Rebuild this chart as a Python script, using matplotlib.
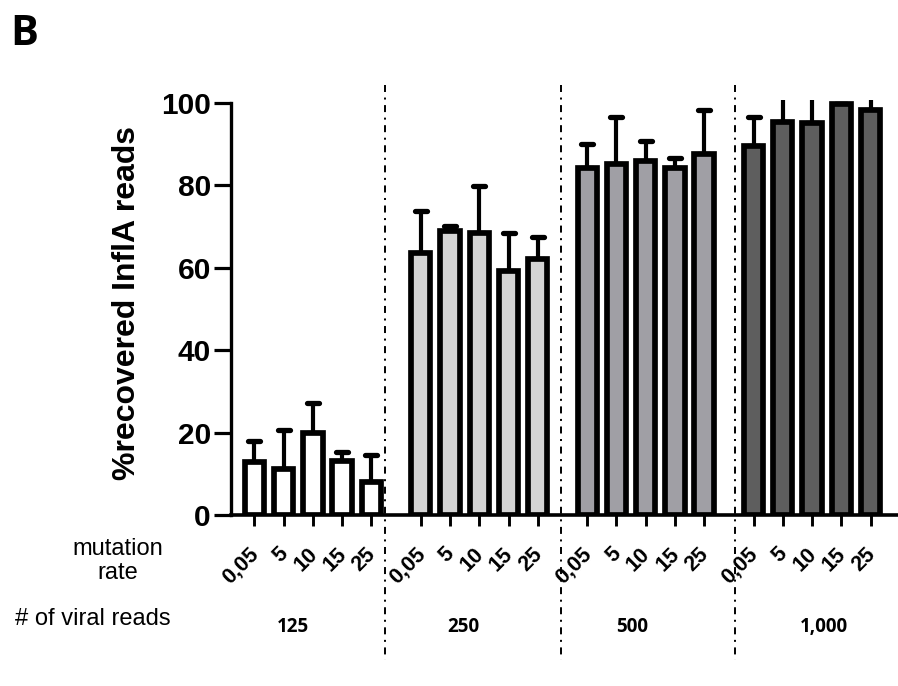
import matplotlib
matplotlib.use("Agg")
import matplotlib.pyplot as plt
import numpy as np
from matplotlib.markers import MarkerStyle
from matplotlib.lines import Line2D
import matplotlib.transforms as mtransforms

# ---- data ----
mutation_rates = ["0,05", "5", "10", "15", "25"]
viral_reads = ["125", "250", "500", "1,000"]
g125_mean = [12.9, 11.2, 20.0, 13.0, 8.1]
g125_sd = [5.1, 9.4, 7.2, 2.3, 6.5]
g250_mean = [63.7, 68.9, 68.4, 59.1, 62.1]
g250_sd = [10.2, 1.2, 11.5, 9.3, 5.3]
g500_mean = [84.1, 85.2, 85.9, 84.1, 87.6]
g500_sd = [5.9, 11.4, 4.9, 2.6, 10.7]
g1000_mean = [89.6, 95.4, 95.1, 99.7, 98.2]
g1000_sd = [7.1, 7.6, 7.9, 0.0, 3.8]
group_colors = ["#ffffff", "#d4d4d4", "#a09fa5", "#5e5e5e"]
y_ticks = [0, 20, 40, 60, 80, 100]

means = [g125_mean, g250_mean, g500_mean, g1000_mean]
sds = [g125_sd, g250_sd, g500_sd, g1000_sd]

stride = 5.69
W, H = 898, 686
fig = plt.figure(figsize=(W / 100, H / 100), dpi=100)
ax_left, ax_right = 231, 898
ax_bottom, ax_top = 515, 100.1
ax = fig.add_axes([ax_left / W, 1 - ax_bottom / H, (ax_right - ax_left) / W, (ax_bottom - ax_top) / H])

sans = ["Liberation Sans", "DejaVu Sans"]
calib = ["Open Sans", "DejaVu Sans"]

all_x = []
for g in range(4):
    xs = g * stride + np.arange(5)
    all_x.extend(xs)
    ax.bar(xs, means[g], width=0.66, color=group_colors[g], edgecolor="black",
           linewidth=4.1, zorder=3)
    eb = ax.errorbar(xs, means[g], yerr=[np.zeros(5), sds[g]], fmt="none",
                     ecolor="black", elinewidth=3.0, capsize=4.3, capthick=3.8, zorder=2)
    for cl in eb[1]:
        cl.set_marker(MarkerStyle("_", capstyle="round"))
        cl.set_markeredgewidth(3.8)
        cl.set_markersize(8.6)

ax.set_xlim(-0.80, 22.01)
ax.set_ylim(0, 100.7)
ax.spines["top"].set_visible(False)
ax.spines["right"].set_visible(False)
ax.spines["left"].set_linewidth(2.4)
ax.spines["bottom"].set_linewidth(2.6)
ax.spines["left"].set_bounds(0, 100)

ax.set_yticks(y_ticks)
ax.set_yticklabels([str(v) for v in y_ticks], fontsize=21.5, fontweight="bold", family=sans)
ax.tick_params(axis="y", length=12.5, width=2.3, pad=2)
ax.set_xticks(all_x)
ax.set_xticklabels([])
ax.tick_params(axis="x", length=8, width=2.1)

for i, x in enumerate(all_x):
    ax.annotate(mutation_rates[i % 5], xy=(x, 0), xycoords=("data", "axes fraction"),
                xytext=(1.0, -26), textcoords="offset points", rotation=45,
                ha="right", va="center", rotation_mode="anchor",
                fontsize=15.5, fontweight="bold", family=sans, annotation_clip=False)

# group labels
group_label_x = [1.33, 7.15, 12.93, 19.46]
for lx, lab in zip(group_label_x, viral_reads):
    ax.annotate(lab, xy=(lx, 0), xycoords=("data", "axes fraction"),
                xytext=(0, -(627 - 515) / 1.389), textcoords="offset points",
                ha="center", va="center", fontsize=13.5, fontweight="bold",
                family=calib, annotation_clip=False)

# separators
sep_x = [4.47, 10.49, 16.44]
trans = mtransforms.blended_transform_factory(ax.transData, fig.transFigure)
for sx in sep_x:
    ln = Line2D([sx, sx], [1 - 85 / H, 1 - 660 / H], transform=trans, color="black",
                linewidth=1.4, linestyle=(0, (3.6, 2.85, 1.03, 2.85)), clip_on=False)
    fig.add_artist(ln)

fig.text(127 / W, 1 - 303 / H, "%recovered InflA reads", rotation=90, ha="center",
         va="center", fontsize=23, fontweight="bold", family=sans)
fig.text(118 / W, 1 - 561 / H, "mutation\nrate", ha="center", va="center",
         fontsize=17, family=sans, linespacing=1.15)
fig.text(15 / W, 1 - 625 / H, "# of viral reads", ha="left", va="baseline",
         fontsize=17, family=sans)
fig.text(10 / W, 1 - 45 / H, "B", ha="left", va="baseline", fontsize=30,
         fontweight="bold", family=calib)

fig.savefig("out.png", dpi=100)
